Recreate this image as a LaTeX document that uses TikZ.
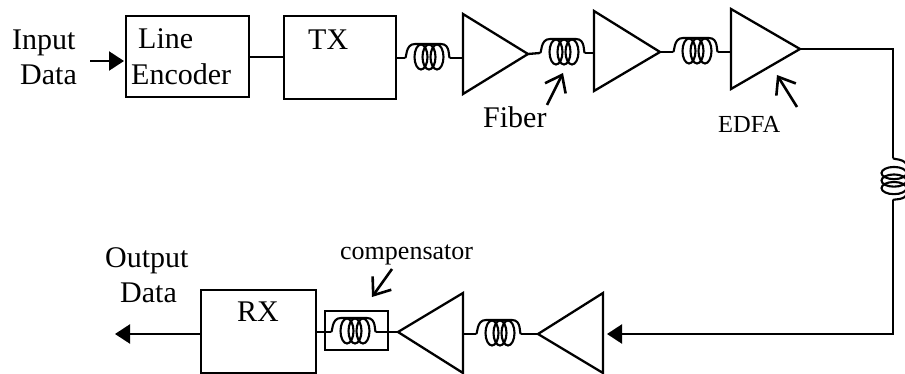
\documentclass[tikz,border=0pt]{standalone}
\usepackage{fontspec}
\setmainfont{Liberation Serif}
\usetikzlibrary{arrows.meta}
\tikzset{
  x=1pt,y=-1pt,
  wire/.style={line width=2.3pt,line join=miter},
  boxnode/.style={draw,line width=2.3pt,rectangle,inner sep=0pt,outer sep=0pt,anchor=north west},
  lbl/.style={anchor=base west,inner sep=0pt,font=\fontsize{30}{36}\selectfont},
  lblm/.style={anchor=base west,inner sep=0pt,font=\fontsize{26}{30}\selectfont},
  lbls/.style={anchor=base west,inner sep=0pt,font=\fontsize{24.5}{28}\selectfont},
  fat/.style={wire,-{Triangle[length=15pt,width=19pt]}},
  barb/.style={line width=2.6pt,-{Straight Barb[length=15pt,width=23pt,line width=2.6pt]}},
  coil/.pic={
    \draw[line width=2.1pt] (0,0) .. controls (2,0) and (0,-14) .. (10,-14) -- (36,-14) .. controls (46,-14) and (43,0) .. (45,0);
    \foreach \cx in {16,24,32} \draw[line width=2.1pt] (\cx,-1) ellipse [x radius=6.5, y radius=12.5];
  }
}
\newcommand{\ampl}[6]{% name, base x, top y, bottom y, tip x, tip y
  \coordinate (#1-base) at (#2,#6);
  \coordinate (#1-tip) at (#5,#6);
  \draw[wire,line join=miter] (#2,#3) -- (#5,#6) -- (#2,#4) -- cycle;
}
\begin{document}
\begin{tikzpicture}
\useasboundingbox (0,0) rectangle (905,374);
% blocks
\node[boxnode,minimum width=123pt,minimum height=81pt] (enc) at (126,16) {};
\node[boxnode,minimum width=112pt,minimum height=83pt] (tx) at (284,16) {};
\node[boxnode,minimum width=115pt,minimum height=83pt] (rx) at (201,290) {};
\node[boxnode,minimum width=63pt,minimum height=39pt] (comp) at (325,311) {};
% amplifiers
\ampl{a1}{463}{14}{94}{528}{54}
\ampl{a2}{594}{11}{91}{660}{52}
\ampl{a3}{731}{9}{89}{800}{49}
\ampl{a4}{603}{293}{373}{538}{334}
\ampl{a5}{463}{293}{373}{398}{332}
% texts
\node[lbl] (tinput) at (12,50) {Input};
\node[lbl] (tdata) at (20,85) {Data};
\node[lbl] (tline) at (138,49) {Line};
\node[lbl] (tenc) at (131,85) {Encoder};
\node[lbl] (ttx) at (308,50) {TX};
\node[lbl] (trx) at (237,321) {RX};
\node[lbl] (tout) at (105,267) {Output};
\node[lbl] (tdata2) at (120,302) {Data};
\node[lblm] (tcomp) at (340,259) {compensator};
\node[lbl] (tfiber) at (483,128) {Fiber};
\node[lbls] (tedfa) at (718,133) {EDFA};
% coil positions
\coordinate (c1a) at (405,58); \coordinate (c1b) at (450,58);
\coordinate (c2a) at (540,53); \coordinate (c2b) at (585,53);
\coordinate (c3a) at (673,52); \coordinate (c3b) at (718,52);
\coordinate (c4a) at (476,334); \coordinate (c4b) at (521,334);
\coordinate (c5a) at (331,332); \coordinate (c5b) at (376,332);
\coordinate (c6a) at (893,158); \coordinate (c6b) at (893,200);
\pic at (c1a) {coil};
\pic at (c2a) {coil};
\pic at (c3a) {coil};
\pic at (c4a) {coil};
\pic at (c5a) {coil};
\pic[rotate=-90,xscale=0.94] at (c6a) {coil};
% connectors
\coordinate (inA) at (90,61); \coordinate (inB) at (124,61);
\coordinate (outA) at (201,334); \coordinate (outB) at (115,334);
\coordinate (corner1) at (893,49);
\coordinate (corner2) at (893,334);
\coordinate (a4in) at (607,334);
\draw[fat] (inA) -- (inB);
\draw[wire] (enc.east |- 0,57) -- (tx.west |- 0,57);
\draw[wire] (tx.east |- c1a) -- (c1a);
\draw[wire] (c1b) -- (a1-base |- c1b);
\draw[wire] (a1-tip) -- (c2a);
\draw[wire] (c2b) -- (a2-base |- c2b);
\draw[wire] (a2-tip) -- (c3a);
\draw[wire] (c3b) -- (a3-base |- c3b);
\draw[wire] (a3-tip) -- (corner1) -- (c6a);
\draw[fat] (c6b) -- (corner2) -- (a4in);
\draw[wire] (a4-tip) -- (c4b);
\draw[wire] (c4a) -- (a5-base |- c4a);
\draw[wire] (a5-tip) -- (comp.east |- a5-tip);
\draw[wire] (comp.east |- c5a) -- (c5b);
\draw[wire] (c5a) -- (rx.east |- c5a);
\draw[fat] (outA) -- (outB);
% pointer arrows
\coordinate (p1a) at (547,105); \coordinate (p1b) at (563,73);
\coordinate (p2a) at (797,107); \coordinate (p2b) at (777,75);
\coordinate (p3a) at (392,269); \coordinate (p3b) at (372,297);
\draw[barb] (p1a) -- (p1b);
\draw[barb] (p2a) -- (p2b);
\draw[barb] (p3a) -- (p3b);
\end{tikzpicture}
\end{document}
